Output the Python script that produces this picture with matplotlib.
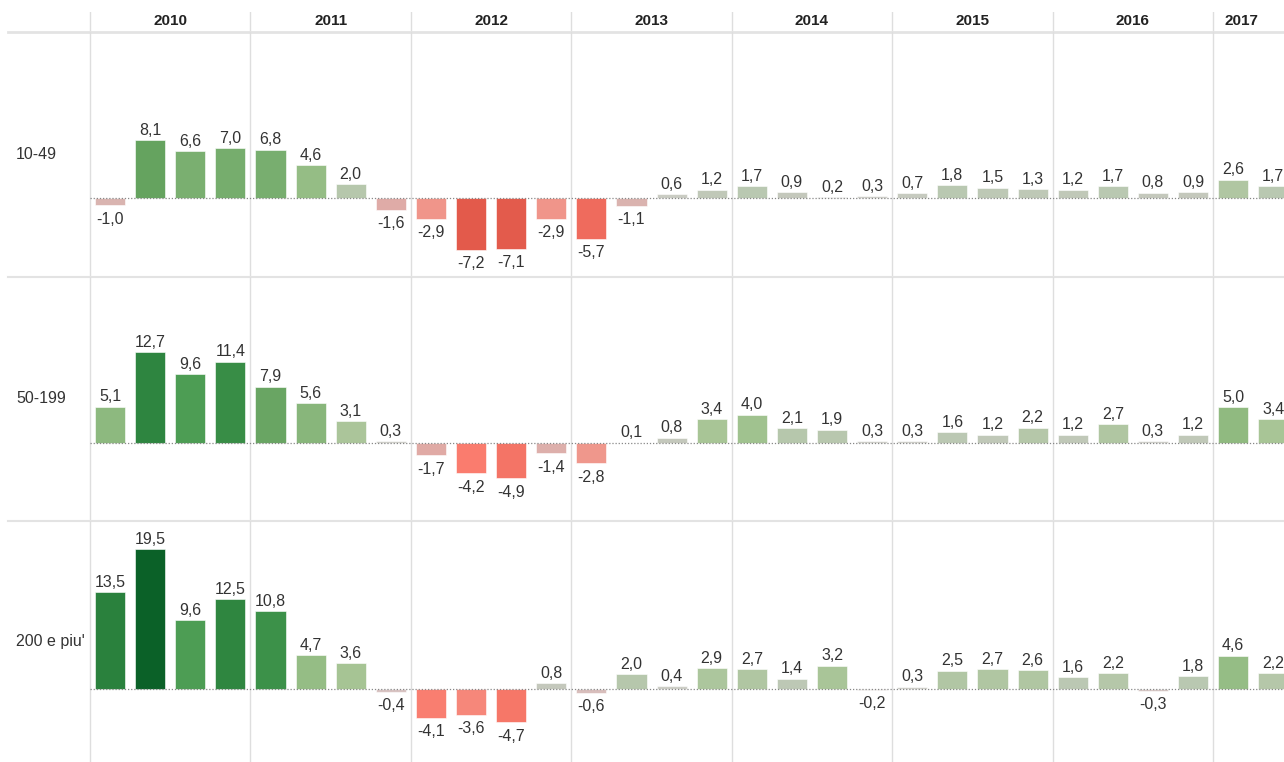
import numpy as np
import matplotlib
matplotlib.use("Agg")
import matplotlib.pyplot as plt
from matplotlib.colors import LinearSegmentedColormap, TwoSlopeNorm

plt.rcParams['font.family'] = ['Liberation Sans', 'DejaVu Sans']

# data: quarterly values, 2010 Q1 .. 2017 Q2
years = ['2010', '2011', '2012', '2013', '2014', '2015', '2016', '2017']
row_labels = ['10-49', '50-199', "200 e piu'"]
vals_10_49 = [-1.0, 8.1, 6.6, 7.0, 6.8, 4.6, 2.0, -1.6,
              -2.9, -7.2, -7.1, -2.9, -5.7, -1.1, 0.6, 1.2,
              1.7, 0.9, 0.2, 0.3, 0.7, 1.8, 1.5, 1.3,
              1.2, 1.7, 0.8, 0.9, 2.6, 1.7]
vals_50_199 = [5.1, 12.7, 9.6, 11.4, 7.9, 5.6, 3.1, 0.3,
               -1.7, -4.2, -4.9, -1.4, -2.8, 0.1, 0.8, 3.4,
               4.0, 2.1, 1.9, 0.3, 0.3, 1.6, 1.2, 2.2,
               1.2, 2.7, 0.3, 1.2, 5.0, 3.4]
vals_200 = [13.5, 19.5, 9.6, 12.5, 10.8, 4.7, 3.6, -0.4,
            -4.1, -3.6, -4.7, 0.8, -0.6, 2.0, 0.4, 2.9,
            2.7, 1.4, 3.2, -0.2, 0.3, 2.5, 2.7, 2.6,
            1.6, 2.2, -0.3, 1.8, 4.6, 2.2]
rows = [vals_10_49, vals_50_199, vals_200]

# diverging palette (value, colour) sampled from the original
vmin, vmax = -7.2, 19.5
stops = [(-7.2, '#e35a4b'), (-5.7, '#ef6b5d'), (-4.9, '#f47566'),
         (-4.2, '#fa7c6e'), (-3.6, '#f6877a'), (-2.9, '#f0958a'),
         (-1.7, '#e0aaa6'), (-1.0, '#d9b4b0'), (-0.5, '#d8c0bf'),
         (0.0, '#d5d3d0'), (0.8, '#c4c8bc'), (1.7, '#bac8b2'),
         (2.1, '#b6c7ab'), (3.4, '#a8c596'), (4.0, '#a1c290'),
         (5.0, '#8fba80'), (6.8, '#78ae6f'), (8.1, '#66a360'),
         (9.6, '#4f9e55'), (10.8, '#3c9149'), (12.7, '#2e8540'),
         (19.5, '#0b6128')]
norm = TwoSlopeNorm(vmin=vmin, vcenter=0, vmax=vmax)
cmap = LinearSegmentedColormap.from_list(
    'rg', [(float(norm(v)), c) for v, c in stops])

W, H = 1284, 762
slot = 40.11          # pixels per quarter
x_left = -0.5 - 90 / slot
x_right = -0.5 + (W - 90) / slot
fig = plt.figure(figsize=(W / 100, H / 100), dpi=100)

grid_c = '#dedede'
txt_c = '#333333'
fs = 11.5

# header axes (year labels)
hax = fig.add_axes([0, 1 - 32 / H, 1, 20 / H])
hax.set_xlim(x_left, x_right)
hax.set_ylim(0, 1)
hax.axis('off')
for k, y in enumerate(years):
    start = -0.5 + 4 * k
    end = min(start + 4, x_right - 0.35)
    hax.text((start + end) / 2, 0.55, y, ha='center', va='center',
             fontsize=11, fontweight='bold', color='#222222')
    hax.axvline(start, color=grid_c, lw=1)
hax.axhline(0, xmin=8 / W, color='#e3e3e3', lw=2, clip_on=False)

# row extents in pixels (top, bottom, zero line)
row_px = [(32, 277, 198.3), (277, 521, 443.3), (521, 762, 688.7)]
ppu = 7.17  # pixels per unit
x = np.arange(len(vals_10_49))

for vals, label, (top, bot, zero) in zip(rows, row_labels, row_px):
    ax = fig.add_axes([0, 1 - bot / H, 1, (bot - top) / H])
    ax.set_xlim(x_left, x_right)
    ax.set_ylim(-(bot - zero) / ppu, (zero - top) / ppu)
    ax.axis('off')
    for k in range(len(years)):
        ax.axvline(-0.5 + 4 * k, color=grid_c, lw=1, zorder=0)
    colors = [cmap(norm(v)) for v in vals]
    ax.bar(x, vals, width=0.75, color=colors, edgecolor='white',
           linewidth=0.4, zorder=2)
    ax.hlines(0, -0.5, x_right, colors='#888888', linestyles=(0, (1, 1.5)),
              lw=0.9, zorder=3)
    for xi, v in zip(x, vals):
        s = f"{v:.1f}".replace('.', ',')
        if v >= 0:
            ax.annotate(s, (xi, v), xytext=(0, 3.8), textcoords='offset points',
                        ha='center', va='baseline', fontsize=fs, color=txt_c)
        else:
            ax.annotate(s, (xi, v), xytext=(0, -4.5), textcoords='offset points',
                        ha='center', va='top', fontsize=fs, color=txt_c)
    ax.text(16 / W, 0.5, label, transform=ax.transAxes, ha='left',
            va='center', fontsize=fs, color=txt_c)
    if bot < H:
        ax.axhline(ax.get_ylim()[0], xmin=8 / W, color='#e3e3e3', lw=1.5,
                   clip_on=False)

fig.savefig('out.png', dpi=100)
